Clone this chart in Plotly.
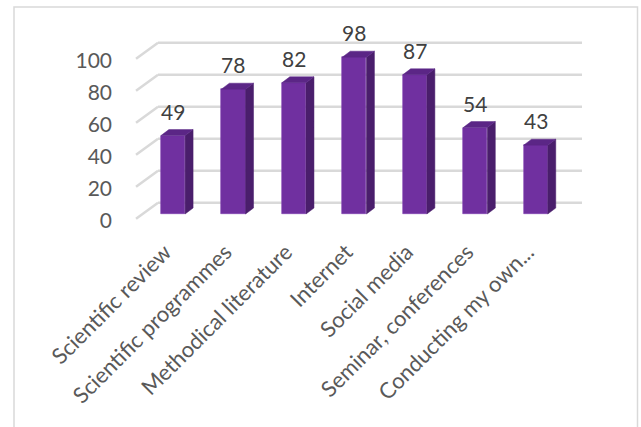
import plotly.graph_objects as go

categories = ["Scientific review", "Scientific programmes", "Methodical literature",
              "Internet", "Social media", "Seminar, conferences", "Conducting my own..."]
values = [49, 78, 82, 98, 87, 54, 43]
y_ticks = [0, 20, 40, 60, 80, 100]

FRONT = "#7030A0"
SIDE = "#4A1E6C"
TOP = "#5B2686"
GRID = "#D9D9D9"
FONT = "Lato"

idx = list(range(len(categories)))
half = 0.2          # half bar width (category units)
dxu = 0.132         # depth offset x (category units)
dyu = 3.75          # depth offset y (value units)
wall_dy = 7.0       # back-wall offset (value units)
wall_x0 = -0.248
wall_x1 = 6.766
front_x = -0.612
front_dy = -3.0

fig = go.Figure()

# front faces
fig.add_trace(go.Bar(x=idx, y=values, width=2 * half,
                     marker=dict(color=FRONT, line=dict(color="#8040B0", width=0.6)),
                     hoverinfo="skip", showlegend=False))

# side faces
sx, sy = [], []
for i, v in zip(idx, values):
    sx += [i + half, i + half + dxu, i + half + dxu, i + half, i + half, None]
    sy += [0, dyu, v + dyu, v, 0, None]
fig.add_trace(go.Scatter(x=sx, y=sy, fill="toself", fillcolor=SIDE, mode="lines",
                         line=dict(width=0.5, color=SIDE), hoverinfo="skip", showlegend=False))

# top faces
tx, ty = [], []
for i, v in zip(idx, values):
    tx += [i - half, i - half + dxu, i + half + dxu, i + half, i - half, None]
    ty += [v, v + dyu, v + dyu, v, v, None]
fig.add_trace(go.Scatter(x=tx, y=ty, fill="toself", fillcolor=TOP, mode="lines",
                         line=dict(width=0.5, color=TOP), hoverinfo="skip", showlegend=False))

# gridlines (back wall + side wall)
shapes = []
for v in y_ticks:
    shapes.append(dict(type="line", xref="x", yref="y", layer="below",
                       x0=wall_x0, x1=wall_x1, y0=v + wall_dy, y1=v + wall_dy,
                       line=dict(color=GRID, width=2.5)))
    shapes.append(dict(type="line", xref="x", yref="y", layer="below",
                       x0=front_x, x1=wall_x0, y0=v + front_dy, y1=v + wall_dy,
                       line=dict(color=GRID, width=2.5)))

# outer frame
W, H = 641, 427
L, R, T, B = 120, 41, 30, 197
pw, ph = W - L - R, H - T - B
def px_x(p):
    return (p - L) / pw
def px_y(p):
    return (H - B - p) / ph
shapes.append(dict(type="rect", xref="paper", yref="paper", layer="below",
                   x0=px_x(14), x1=px_x(637.5), y0=px_y(440), y1=px_y(7),
                   line=dict(color="#D9D9D9", width=1.5), fillcolor="rgba(0,0,0,0)"))

annotations = []
for i, v in zip(idx, values):
    annotations.append(dict(x=i, y=v, xref="x", yref="y", text=str(v), showarrow=False,
                            yanchor="bottom", yshift=10,
                            font=dict(family=FONT, size=21, color="#404040")))

fig.update_layout(
    width=W, height=H, autosize=False,
    margin=dict(l=L, r=R, t=T, b=B),
    paper_bgcolor="white", plot_bgcolor="white",
    shapes=shapes, annotations=annotations,
    bargap=0,
    xaxis=dict(range=[-0.877, 7.064], tickmode="array", tickvals=idx, ticktext=categories,
               tickangle=-45, showgrid=False, zeroline=False, showline=False, ticks="",
               tickfont=dict(family=FONT, size=22, color="#595959"),
               ticklabelshift=-8, ticklabelstandoff=4),
    yaxis=dict(range=[-10, 115], tickmode="array", tickvals=y_ticks,
               showgrid=False, zeroline=False, showline=False, ticks="",
               tickfont=dict(family=FONT, size=21, color="#595959"),
               ticklabelshift=7, ticklabelstandoff=7),
)

fig.write_html("out.html", post_script="document.body.style.margin='0px';",
               config={"displayModeBar": False})
